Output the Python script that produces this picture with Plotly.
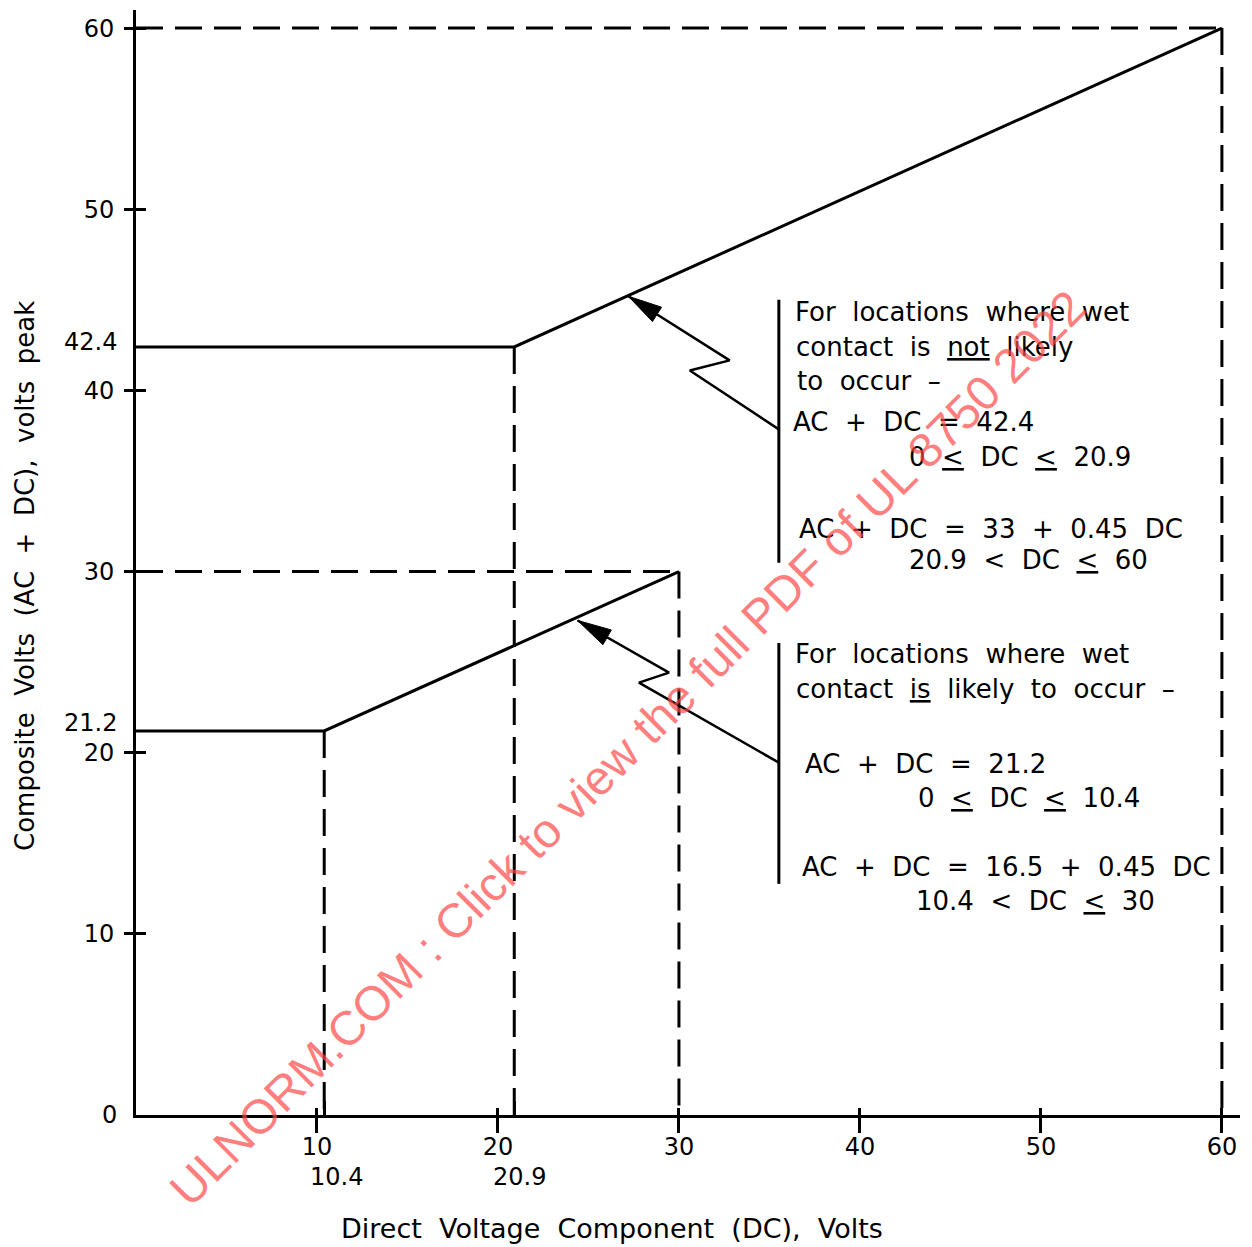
import math
import plotly.graph_objects as go

# ---------------- data ----------------
AXIS_MAX = 61
x_ticks = [10, 20, 30, 40, 50, 60]
y_ticks = [10, 20, 30, 40, 50, 60]
x_special = [10.4, 20.9]          # extra x labels
y_special = [42.4, 21.2]          # extra y labels

# limit for locations where wet contact is NOT likely
dry_x = [0, 20.9, 60]
dry_y = [42.4, 42.4, 60]
# limit for locations where wet contact IS likely
wet_x = [0, 10.4, 30]
wet_y = [21.2, 21.2, 30]

# leader (zig-zag) lines: start at bracket -> bends -> arrow tip on curve
leader_dry_x = [35.52, 30.6, 32.8, 27.2]
leader_dry_y = [37.85, 41.1, 41.66, 45.2]
leader_wet_x = [35.52, 27.79, 29.45, 24.4]
leader_wet_y = [19.45, 23.87, 24.42, 27.3]

# bracket lines beside the text blocks (x, y_top, y_bottom)
bracket_x = 35.52
bracket_dry = [45.0, 30.48]
bracket_wet = [26.06, 12.76]

S = "&nbsp;&nbsp;"
LE = "<u>&lt;</u>"
text_dry = [
    (36.30, 44.34, f"For{S}locations{S}where{S}wet"),
    (36.35, 42.41, f"contact{S}is{S}<u>not</u>{S}likely"),
    (36.41, 40.53, f"to{S}occur{S}–"),
    (36.19, 38.27, f"AC{S}+{S}DC{S}={S}42.4"),
    (42.60, 36.33, f"0{S}{LE}{S}DC{S}{LE}{S}20.9"),
    (36.52, 32.36, f"AC{S}+{S}DC{S}={S}33{S}+{S}0.45{S}DC"),
    (42.60, 30.65, f"20.9{S}&lt;{S}DC{S}{LE}{S}60"),
]
text_wet = [
    (36.30, 25.46, f"For{S}locations{S}where{S}wet"),
    (36.35, 23.52, f"contact{S}<u>is</u>{S}likely{S}to{S}occur{S}–"),
    (36.85, 19.38, f"AC{S}+{S}DC{S}={S}21.2"),
    (43.09, 17.50, f"0{S}{LE}{S}DC{S}{LE}{S}10.4"),
    (36.70, 13.69, f"AC{S}+{S}DC{S}={S}16.5{S}+{S}0.45{S}DC"),
    (42.98, 11.82, f"10.4{S}&lt;{S}DC{S}{LE}{S}30"),
]

x_title = f"Direct{S}Voltage{S}Component{S}(DC),{S}Volts"
y_title = f"Composite{S}Volts{S}(AC{S}+{S}DC),{S}volts{S}peak"
watermark = "ULNORM.COM : Click to view the full PDF of UL 8750 2022"

# ---------------- figure ----------------
BODY = 8  # default page margin of the html body
W, H = 1252 - BODY, 1247 - BODY
ML, MR, MT, MB = 136 - BODY, 12, 10 - BODY, 132
PW, PH = W - ML - MR, H - MT - MB
sx = PW / AXIS_MAX
sy = PH / AXIS_MAX

fig = go.Figure()
BLACK = "black"
DASH = "27px,12px"

def line(xs, ys, dash=None, width=3):
    fig.add_trace(go.Scatter(x=xs, y=ys, mode="lines",
                             line=dict(color=BLACK, width=width, dash=dash),
                             hoverinfo="skip", showlegend=False))

# dashed guide lines derived from the series
for xs, ys in ((dry_x, dry_y), (wet_x, wet_y)):
    line([0, xs[-1]], [ys[-1], ys[-1]], DASH)
    line([xs[-1], xs[-1]], [ys[-1], 0], DASH)
    line([xs[1], xs[1]], [ys[1], 0], DASH)

# solid limit curves
line(dry_x, dry_y)
line(wet_x, wet_y)

# brackets
line([bracket_x, bracket_x], bracket_dry)
line([bracket_x, bracket_x], bracket_wet)

# leaders with arrowheads
def leader(xs, ys):
    line(xs, ys, width=2.5)
    tx, ty = xs[-1] * sx, ys[-1] * sy
    px, py = xs[-2] * sx, ys[-2] * sy
    d = math.hypot(tx - px, ty - py)
    ux, uy = (tx - px) / d, (ty - py) / d
    L, hw = 34, 8.5
    bx, by = tx - ux * L, ty - uy * L
    nx, ny = -uy, ux
    pts = [(tx, ty), (bx + nx * hw, by + ny * hw), (bx - nx * hw, by - ny * hw), (tx, ty)]
    fig.add_trace(go.Scatter(x=[p[0] / sx for p in pts], y=[p[1] / sy for p in pts],
                             mode="lines", fill="toself", fillcolor=BLACK,
                             line=dict(color=BLACK, width=1), hoverinfo="skip",
                             showlegend=False))

leader(leader_dry_x, leader_dry_y)
leader(leader_wet_x, leader_wet_y)

# dummy trace for the overlay axes (crossing ticks + x labels)
fig.add_trace(go.Scatter(x=[None], y=[None], xaxis="x2", yaxis="y2", showlegend=False))

FONT = "DejaVu Sans"
ann = []
for tx, ty, t in text_dry + text_wet:
    ann.append(dict(x=tx, y=ty, xref="x", yref="y", text=t, showarrow=False,
                    xanchor="left", yanchor="middle",
                    font=dict(family=FONT, size=26, color=BLACK)))

# extra axis labels
ann.append(dict(x=0, y=0, xref="x", yref="y", text="0", showarrow=False,
                xanchor="right", yanchor="middle", xshift=-17,
                font=dict(family=FONT, size=24, color=BLACK)))
for v, ys in zip(y_special, [5, 8]):
    ann.append(dict(x=0, y=v, xref="x", yref="y", text=str(v), showarrow=False,
                    xanchor="right", yanchor="middle", xshift=-17, yshift=ys,
                    font=dict(family=FONT, size=24, color=BLACK)))
for v, xs in zip(x_special, [12, 5]):
    ann.append(dict(x=v, y=0, xref="x", yref="paper", text=str(v), showarrow=False,
                    xanchor="center", yanchor="middle", xshift=xs, yshift=-62,
                    font=dict(family=FONT, size=24, color=BLACK)))

# axis titles
ann.append(dict(x=(612 - 136) / PW, y=0, xref="paper", yref="paper",
                text=x_title, showarrow=False, xanchor="center", yanchor="middle",
                yshift=-113, font=dict(family=FONT, size=27, color=BLACK)))
ann.append(dict(x=0, y=(1115 - 576) / PH, xref="paper", yref="paper", text=y_title,
                showarrow=False, textangle=-90, xanchor="center", yanchor="middle",
                xshift=-111, font=dict(family=FONT, size=26, color=BLACK)))

# watermark
ann.append(dict(x=(627 - 136) / PW, y=(1115 - 748) / PH, xref="paper", yref="paper",
                text=watermark, showarrow=False, textangle=-45,
                xanchor="center", yanchor="middle",
                font=dict(family="Liberation Sans", size=48, color="rgba(255,70,70,0.7)")))

axis_common = dict(range=[0, AXIS_MAX], showgrid=False, zeroline=False,
                   fixedrange=True, tickmode="array")
fig.update_layout(
    width=W, height=H,
    margin=dict(l=ML, r=MR, t=MT, b=MB),
    plot_bgcolor="white", paper_bgcolor="white",
    showlegend=False,
    font=dict(family=FONT, size=24, color=BLACK),
    xaxis=dict(**axis_common, tickvals=x_ticks, showticklabels=False,
               showline=True, linewidth=3, linecolor=BLACK,
               ticks="outside", ticklen=15, tickwidth=3, tickcolor=BLACK,
               minor=dict(tickmode="array", tickvals=x_special, ticks="inside",
                          ticklen=14, tickwidth=3, tickcolor=BLACK, showgrid=False)),
    yaxis=dict(**axis_common, tickvals=y_ticks, ticktext=[str(v) for v in y_ticks],
               showline=True, linewidth=3, linecolor=BLACK,
               ticks="outside", ticklen=9, tickwidth=3, tickcolor=BLACK,
               ticklabelstandoff=5,
               tickfont=dict(family=FONT, size=24, color=BLACK)),
    xaxis2=dict(**axis_common, overlaying="x", side="bottom", tickvals=x_ticks,
                ticktext=[str(v) for v in x_ticks],
                ticks="inside", ticklen=7, tickwidth=3, tickcolor=BLACK,
                showticklabels=True, ticklabelstandoff=15, showline=False,
                tickfont=dict(family=FONT, size=24, color=BLACK)),
    yaxis2=dict(**axis_common, overlaying="y", side="left", tickvals=y_ticks,
                ticks="inside", ticklen=10, tickwidth=3, tickcolor=BLACK,
                showticklabels=False, showline=False),
    annotations=ann,
)

fig.write_html("out.html")
